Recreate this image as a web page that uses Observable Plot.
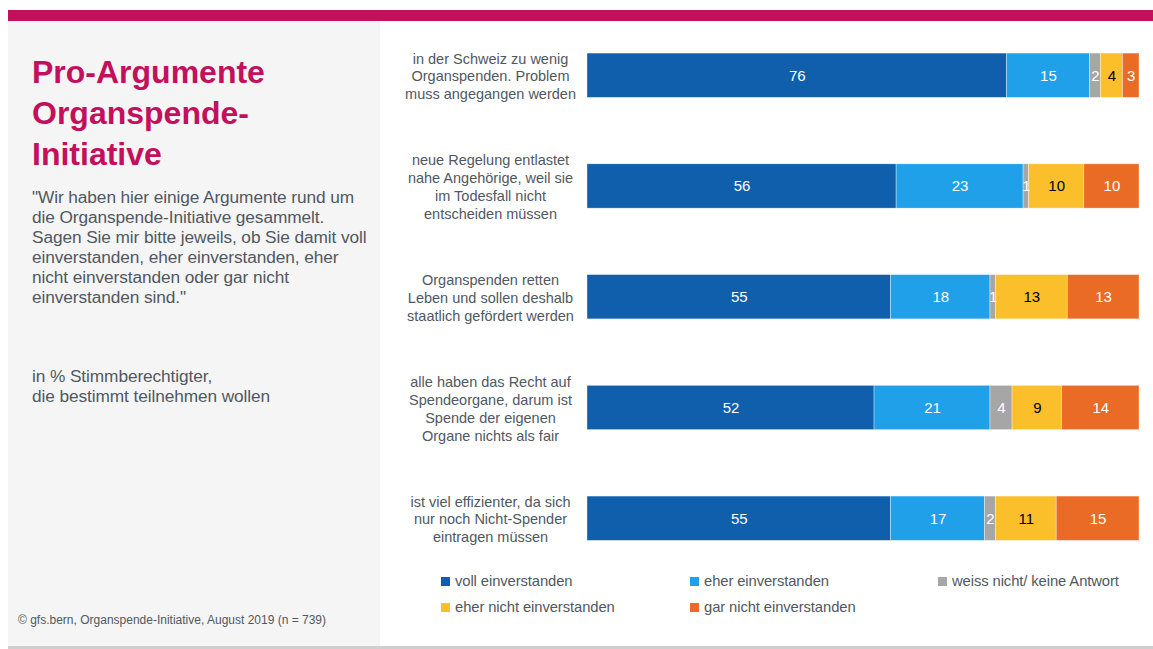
<!DOCTYPE html>
<html>
<head>
<meta charset="utf-8">
<script src="https://cdn.jsdelivr.net/npm/d3@7"></script>
<script src="https://cdn.jsdelivr.net/npm/@observablehq/plot@0.6"></script>
<style>
  html, body { margin: 0; padding: 0; background: #fff; }
  body { width: 1153px; height: 649px; position: relative; overflow: hidden; font-family: "Liberation Sans", Arial, sans-serif; color: #50585f; }
  #topbar { position: absolute; left: 8px; top: 10px; width: 1145px; height: 10.5px; background: #c2105d; }
  #panel { position: absolute; left: 8px; top: 20.5px; width: 372px; height: 625px; background: #f5f5f5; }
  #bottomline { position: absolute; left: 8px; top: 645.5px; width: 1145px; height: 3.5px; background: #cfcfcf; }
  #title { position: absolute; left: 32px; top: 52px; font-size: 32px; font-weight: bold; line-height: 41px; color: #c2105d; }
  #question { position: absolute; left: 32px; top: 187px; font-size: 17.3px; line-height: 20px; color: #50585f; letter-spacing: -0.1px; }
  #base { position: absolute; left: 32px; top: 366px; font-size: 17.3px; line-height: 20px; color: #50585f; letter-spacing: -0.1px; }
  #footer { position: absolute; left: 18px; top: 613px; font-size: 12px; color: #50585f; }
  #chart { position: absolute; left: 383px; top: 0px; }
  .leg { position: absolute; font-size: 14.8px; color: #50585f; white-space: nowrap; letter-spacing: -0.1px; }
  .leg span { display: inline-block; width: 9px; height: 9px; margin-right: 5px; vertical-align: 0px; }
</style>
</head>
<body>
<div id="topbar"></div>
<div id="panel"></div>
<div id="bottomline"></div>
<div id="title">Pro-Argumente<br>Organspende-<br>Initiative</div>
<div id="question">"Wir haben hier einige Argumente rund um<br>die Organspende-Initiative gesammelt.<br>Sagen Sie mir bitte jeweils, ob Sie damit voll<br>einverstanden, eher einverstanden, eher<br>nicht einverstanden oder gar nicht<br>einverstanden sind."</div>
<div id="base">in % Stimmberechtigter,<br>die bestimmt teilnehmen wollen</div>
<div id="footer">© gfs.bern, Organspende-Initiative, August 2019 (n = 739)</div>
<div id="chart"></div>
<div id="legend"></div>
<script>
// ---- data ----
const categories = [
  "in der Schweiz zu wenig\nOrganspenden. Problem\nmuss angegangen werden",
  "neue Regelung entlastet\nnahe Angehörige, weil sie\nim Todesfall nicht\nentscheiden müssen",
  "Organspenden retten\nLeben und sollen deshalb\nstaatlich gefördert werden",
  "alle haben das Recht auf\nSpendeorgane, darum ist\nSpende der eigenen\nOrgane nichts als fair",
  "ist viel effizienter, da sich\nnur noch Nicht-Spender\neintragen müssen"
];
const series = ["voll einverstanden", "eher einverstanden", "weiss nicht/ keine Antwort", "eher nicht einverstanden", "gar nicht einverstanden"];
const vollEinverstanden      = [76, 56, 55, 52, 55];
const eherEinverstanden      = [15, 23, 18, 21, 17];
const weissNicht             = [2, 1, 1, 4, 2];
const eherNichtEinverstanden = [4, 10, 13, 9, 11];
const garNichtEinverstanden  = [3, 10, 13, 14, 15];
const seriesColors = ["#0f5fad", "#1fa0e9", "#a6a6a6", "#fabf2b", "#e96b25"];
const labelColors  = ["#ffffff", "#ffffff", "#ffffff", "#000000", "#ffffff"];

const values = [vollEinverstanden, eherEinverstanden, weissNicht, eherNichtEinverstanden, garNichtEinverstanden];
const data = [];
categories.forEach((c, i) => {
  series.forEach((s, j) => {
    data.push({category: c, series: s, value: values[j][i], idx: j});
  });
});

const stackOpts = {x: "value", y: "category", z: "series", order: null};

const chart = Plot.plot({
  width: 770,
  height: 560,
  marginLeft: 204,
  marginRight: 14,
  marginTop: 42,
  marginBottom: 8.55,
  style: {fontFamily: "'Liberation Sans', Arial, sans-serif", background: "transparent"},
  x: {domain: [0, 100], axis: null},
  y: {domain: categories, axis: null, paddingInner: 0.6, paddingOuter: 0.1, round: false},
  color: {type: "identity"},
  marks: [
    Plot.barX(data, Plot.stackX({...stackOpts, fill: d => seriesColors[d.idx], stroke: "#ffffff", strokeWidth: 0.6, strokeOpacity: 0.6})),
    Plot.text(data, Plot.stackX({...stackOpts, text: d => String(d.value), fill: d => labelColors[d.idx], fontSize: 15})),
    Plot.text(categories, {x: () => 0, y: d => d, text: d => d, dx: -97, textAnchor: "middle", fontSize: 14.5, lineHeight: 1.24, fill: "#50585f"})
  ]
});
document.getElementById("chart").appendChild(chart);

// legend (HTML, from the same arrays)
const legendPos = [[441, 573], [690, 573], [938, 573], [441, 599], [690, 599]];
const legend = document.getElementById("legend");
series.forEach((s, j) => {
  const d = document.createElement("div");
  d.className = "leg";
  d.style.left = legendPos[j][0] + "px";
  d.style.top = legendPos[j][1] + "px";
  d.innerHTML = `<span style="background:${seriesColors[j]}"></span>${s}`;
  legend.appendChild(d);
});
</script>
</body>
</html>
